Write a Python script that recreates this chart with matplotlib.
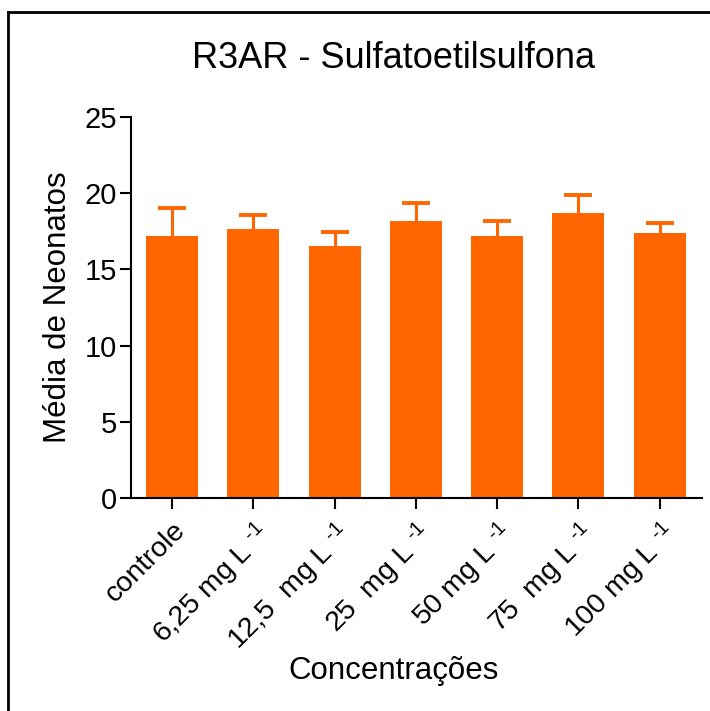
import matplotlib
matplotlib.use("Agg")
import matplotlib.pyplot as plt
from matplotlib.lines import Line2D

plt.rcParams['font.family'] = ['Liberation Sans', 'DejaVu Sans']
plt.rcParams['mathtext.fontset'] = 'custom'
plt.rcParams['mathtext.rm'] = 'Liberation Sans'
plt.rcParams['mathtext.it'] = 'Liberation Sans'
plt.rcParams['mathtext.default'] = 'regular'

categories = ["controle", "6,25 mg L $^{\\text{-1}}$", "12,5  mg L $^{\\text{-1}}$",
              "25  mg L $^{\\text{-1}}$", "50 mg L $^{\\text{-1}}$",
              "75  mg L $^{\\text{-1}}$", "100 mg L $^{\\text{-1}}$"]
means = [17.2, 17.65, 16.55, 18.2, 17.2, 18.7, 17.4]
errors = [1.8, 0.95, 0.93, 1.17, 0.97, 1.2, 0.65]
y_ticks = [0, 5, 10, 15, 20, 25]

orange = "#FF6600"

fig = plt.figure(figsize=(7.10, 7.11), dpi=100)
ax = fig.add_axes([131 / 710, 1 - 498 / 711, (702 - 131) / 710, (498 - 117) / 711])

x = list(range(len(categories)))
tops = [m + e for m, e in zip(means, errors)]

ax.bar(x, means, width=0.64, color=orange, zorder=2)
# upper error bars only: stem from bar top plus a cap
ax.vlines(x, means, tops, color=orange, linewidth=2.2, zorder=1)
ax.plot(x, tops, linestyle='none', marker='_', markersize=20,
        markeredgewidth=2.8, color=orange, zorder=1)

ax.set_xlim(-0.505, 6.52)
ax.set_ylim(0, 25)
ax.set_yticks(y_ticks)
ax.set_xticks(x)
ax.set_xticklabels(categories, rotation=45, ha='right', va='top',
                   rotation_mode='anchor', fontsize=20.5)
ax.tick_params(axis='y', labelsize=21, length=8, width=1.5, pad=2)
ax.tick_params(axis='x', length=8, width=1.5, pad=6)

for side in ('top', 'right'):
    ax.spines[side].set_visible(False)
for side in ('left', 'bottom'):
    ax.spines[side].set_linewidth(1.5)

ax.set_ylabel("Média de Neonatos", fontsize=22.5, labelpad=8)

fig.text(394 / 710, 1 - 58 / 711, "R3AR - Sulfatoetilsulfona",
         ha='center', va='center', fontsize=26)
fig.text(394 / 710, 1 - 671 / 711, "Concentrações",
         ha='center', va='center', fontsize=22.5)

# outer frame along the left and top edges
fig.add_artist(Line2D([8 / 710, 8 / 710], [0, 1 - 12 / 711],
                      transform=fig.transFigure, color='black', linewidth=2))
fig.add_artist(Line2D([8 / 710, 1], [1 - 12 / 711, 1 - 12 / 711],
                      transform=fig.transFigure, color='black', linewidth=2))

fig.savefig("out.png", dpi=100, facecolor='white')
